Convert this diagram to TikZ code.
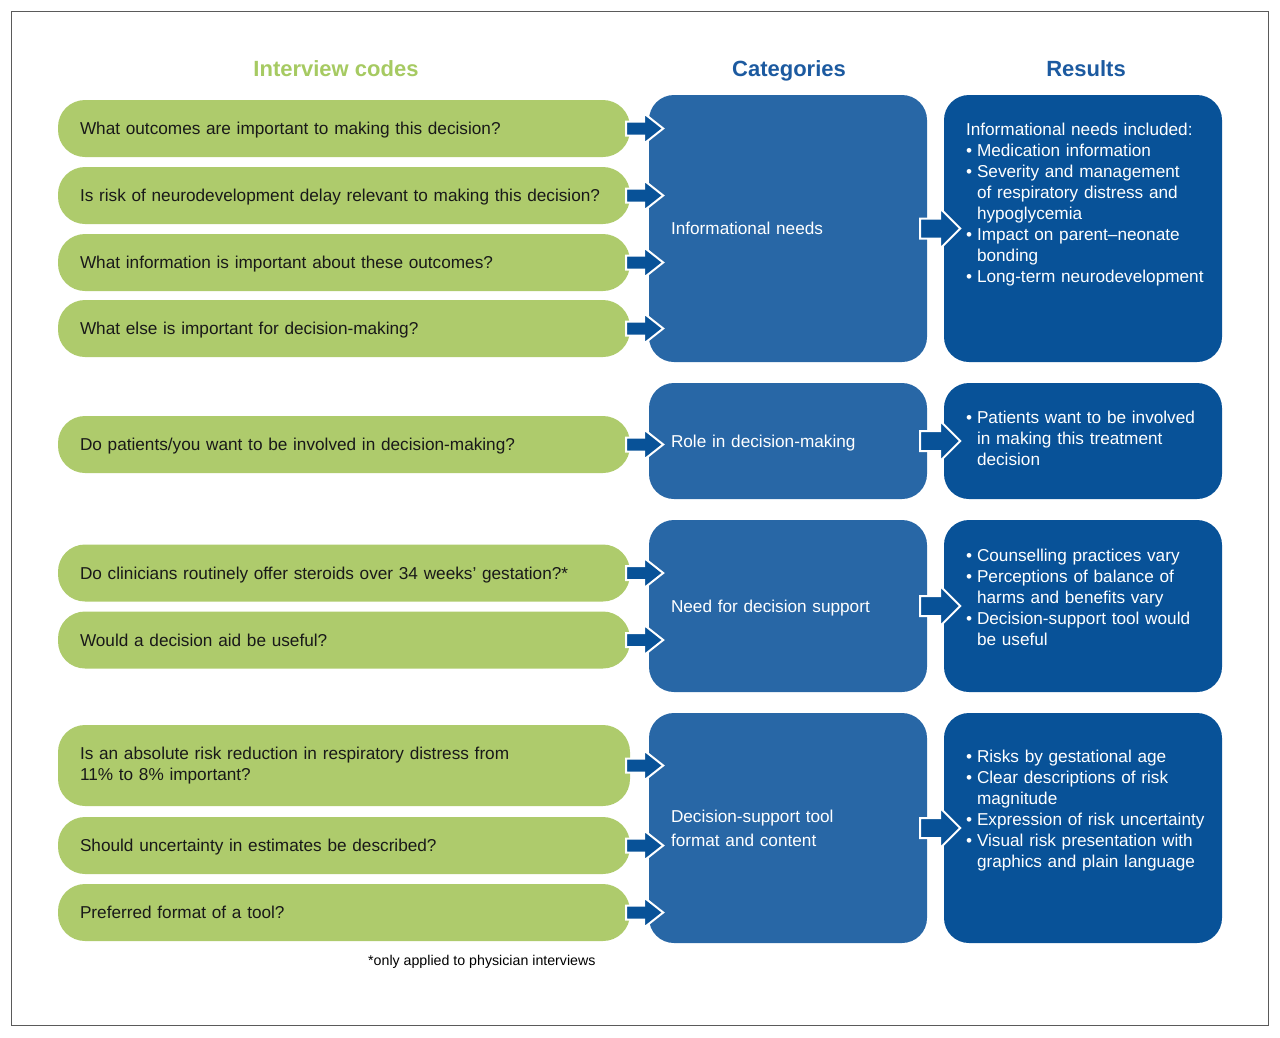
\documentclass[tikz,border=0pt]{standalone}
\usepackage{fontspec}
\setmainfont{Liberation Sans}
\usetikzlibrary{calc}
\definecolor{codegreen}{RGB}{174,203,108}
\definecolor{headgreen}{RGB}{166,202,98}
\definecolor{catblue}{RGB}{40,103,166}
\definecolor{resblue}{RGB}{8,82,152}
\definecolor{headblue}{RGB}{28,90,160}
\definecolor{framegray}{RGB}{90,90,90}
\definecolor{codetext}{RGB}{25,25,25}
\newcommand{\bul}{\makebox[11pt][l]{•}}
\newcommand{\ind}{\hspace*{11pt}}
\begin{document}
\begin{tikzpicture}[x=1pt,y=-1pt,
  codebox/.style={fill=codegreen, rounded corners=27pt, minimum width=572pt, minimum height=57pt,
    text width=528pt, inner xsep=22pt, inner ysep=0pt, align=left, text=codetext,
    font=\fontsize{17.2}{21}\selectfont},
  oneline/.style={text depth=0pt},
  catbox/.style={fill=catblue, rounded corners=25pt, minimum width=278pt,
    text width=234pt, inner xsep=22pt, inner ysep=0pt, align=left, text=white,
    font=\fontsize{17.2}{24}\selectfont},
  resbox/.style={fill=resblue, rounded corners=25pt, minimum width=278pt, inner sep=0pt},
  restext/.style={text width=256pt, inner sep=0pt, align=left, text=white, anchor=base west,
    font=\fontsize{17.2}{21}\selectfont},
  header/.style={font=\fontsize{22}{26}\selectfont\bfseries, anchor=base},
  arrstyle/.style={draw=white, line width=2pt, fill=resblue, line join=miter},
  pics/smallarr/.style={code={\draw[arrstyle] (0,-7) -- (18,-7) -- (18,-15) -- (37,0) -- (18,15) -- (18,7) -- (0,7) -- cycle;}},
  pics/bigarr/.style={code={\draw[arrstyle] (0,-10) -- (20,-10) -- (20,-20) -- (40,0) -- (20,20) -- (20,10) -- (0,10) -- cycle;}}
]
\useasboundingbox (0,0) rectangle (1280,1037);
\draw[framegray, line width=1pt] (11,11) rectangle (1268,1025);

% headers
\node[header, text=headgreen] (h1) at (336,76) {Interview codes};
\node[header, text=headblue] (h2) at (789,76) {Categories};
\node[header, text=headblue] (h3) at (1086,76) {Results};

% interview codes
\node[codebox, oneline] (g1) at (344,128.5) {What outcomes are important to making this decision?};
\node[codebox, oneline] (g2) at (344,195.5) {Is risk of neurodevelopment delay relevant to making this decision?};
\node[codebox, oneline] (g3) at (344,262.5) {What information is important about these outcomes?};
\node[codebox, oneline] (g4) at (344,328.5) {What else is important for decision-making?};
\node[codebox, oneline] (g5) at (344,444.5) {Do patients/you want to be involved in decision-making?};
\node[codebox, oneline] (g6) at (344,573) {Do clinicians routinely offer steroids over 34 weeks’ gestation?*};
\node[codebox, oneline] (g7) at (344,640) {Would a decision aid be useful?};
\node[codebox, minimum height=81pt] (g8) at (344,765.5) {Is an absolute risk reduction in respiratory distress from\\11\% to 8\% important?};
\node[codebox, oneline] (g9) at (344,845.5) {Should uncertainty in estimates be described?};
\node[codebox, oneline] (g10) at (344,912.5) {Preferred format of a tool?};

\node[font=\fontsize{14.2}{16}\selectfont, anchor=base west, inner sep=0pt] (fn) at (368,965) {*only applied to physician interviews};

% categories
\node[catbox, oneline, minimum height=267pt] (c1) at (788,228.5) {Informational needs};
\node[catbox, oneline, minimum height=116pt] (c2) at (788,441) {Role in decision-making};
\node[catbox, oneline, minimum height=172pt] (c3) at (788,606) {Need for decision support};
\node[catbox, minimum height=230pt] (c4) at (788,828) {Decision-support tool\\format and content};

% results
\node[resbox, minimum height=267pt] (r1) at (1083,228.5) {};
\node[resbox, minimum height=116pt] (r2) at (1083,441) {};
\node[resbox, minimum height=172pt] (r3) at (1083,606) {};
\node[resbox, minimum height=230pt] (r4) at (1083,828) {};

\node[restext] (r1t) at ($(r1.north west)+(22,41)$) {Informational needs included:\\
\bul Medication information\\
\bul Severity and management\\
\ind of respiratory distress and\\
\ind hypoglycemia\\
\bul Impact on parent–neonate\\
\ind bonding\\
\bul Long-term neurodevelopment};
\node[restext] (r2t) at ($(r2.north west)+(22,41)$) {\bul Patients want to be involved\\
\ind in making this treatment\\
\ind decision};
\node[restext] (r3t) at ($(r3.north west)+(22,42)$) {\bul Counselling practices vary\\
\bul Perceptions of balance of\\
\ind harms and benefits vary\\
\bul Decision-support tool would\\
\ind be useful};
\node[restext] (r4t) at ($(r4.north west)+(22,50)$) {\bul Risks by gestational age\\
\bul Clear descriptions of risk\\
\ind magnitude\\
\bul Expression of risk uncertainty\\
\bul Visual risk presentation with\\
\ind graphics and plain language};

% arrows codes -> categories
\foreach \g in {g1,g2,g3,g4,g5,g6,g7,g8,g9,g10}{
  \pic at ($(\g.east)+(-4,0)$) {smallarr};
}
% arrows categories -> results
\foreach \c in {c1,c2,c3,c4}{
  \pic at ($(\c.east)+(-7,0)$) {bigarr};
}
\end{tikzpicture}
\end{document}
